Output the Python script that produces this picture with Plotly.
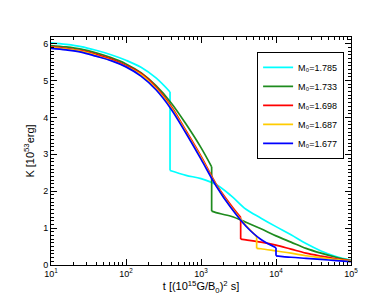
import plotly.graph_objects as go

# ---- data ----
series_names = ["M₀=1.785", "M₀=1.733", "M₀=1.698", "M₀=1.687", "M₀=1.677"]
series_colors = ["#00FFFF", "#1E8B1E", "#FF0000", "#FFCC00", "#0000FF"]

# log10(t) and K values; each curve drops vertically at one time
logt_1785 = [1.0, 1.2, 1.4, 1.6, 1.8, 2.0, 2.2, 2.4, 2.587, 2.587, 2.8, 3.0, 3.2, 3.4, 3.6, 3.8, 4.0, 4.2, 4.4, 4.6, 4.8, 5.0]
k_1785    = [6.02, 5.98, 5.92, 5.82, 5.70, 5.55, 5.36, 5.07, 4.69, 2.56, 2.43, 2.34, 2.18, 1.88, 1.51, 1.27, 1.04, 0.82, 0.58, 0.38, 0.23, 0.13]

logt_1733 = [1.0, 1.2, 1.4, 1.6, 1.8, 2.0, 2.2, 2.4, 2.6, 2.8, 3.0, 3.142, 3.142, 3.2, 3.4, 3.6, 3.8, 4.0, 4.2, 4.4, 4.6, 4.8, 5.0]
k_1733    = [5.95, 5.91, 5.85, 5.75, 5.62, 5.45, 5.21, 4.86, 4.40, 3.82, 3.18, 2.66, 1.46, 1.42, 1.32, 1.16, 0.98, 0.79, 0.62, 0.45, 0.32, 0.21, 0.12]

logt_1698 = [1.0, 1.2, 1.4, 1.6, 1.8, 2.0, 2.2, 2.4, 2.6, 2.8, 3.0, 3.2, 3.4, 3.529, 3.529, 3.6, 3.8, 4.0, 4.2, 4.4, 4.6, 4.8, 5.0]
k_1698    = [5.91, 5.87, 5.81, 5.71, 5.58, 5.41, 5.19, 4.82, 4.31, 3.64, 2.95, 2.20, 1.62, 1.29, 0.70, 0.68, 0.62, 0.54, 0.43, 0.32, 0.24, 0.17, 0.12]

logt_1687 = [1.0, 1.2, 1.4, 1.6, 1.8, 2.0, 2.2, 2.4, 2.6, 2.8, 3.0, 3.2, 3.4, 3.6, 3.742, 3.742, 3.8, 4.0, 4.2, 4.4, 4.6, 4.8, 5.0]
k_1687    = [5.89, 5.85, 5.79, 5.68, 5.55, 5.38, 5.16, 4.78, 4.27, 3.60, 2.91, 2.17, 1.57, 1.07, 0.77, 0.45, 0.44, 0.38, 0.32, 0.25, 0.20, 0.15, 0.11]

logt_1677 = [1.0, 1.2, 1.4, 1.6, 1.8, 2.0, 2.2, 2.4, 2.6, 2.8, 3.0, 3.2, 3.4, 3.6, 3.8, 4.0, 4.0, 4.2, 4.4, 4.6, 4.8, 5.0]
k_1677    = [5.87, 5.83, 5.77, 5.66, 5.54, 5.37, 5.12, 4.75, 4.23, 3.57, 2.87, 2.15, 1.55, 1.05, 0.69, 0.47, 0.25, 0.21, 0.18, 0.15, 0.12, 0.09]

x_tick_vals = [10, 100, 1000, 10000, 100000]
x_tick_text = ["10<sup>1</sup>", "10<sup>2</sup>", "10<sup>3</sup>", "10<sup>4</sup>", "10<sup>5</sup>"]
y_tick_vals = [0, 1, 2, 3, 4, 5, 6]

all_logt = [logt_1785, logt_1733, logt_1698, logt_1687, logt_1677]
all_k = [k_1785, k_1733, k_1698, k_1687, k_1677]

fig = go.Figure()
for i, (name, color, lt, kv) in enumerate(zip(series_names, series_colors, all_logt, all_k)):
    t = [10 ** v for v in lt]
    d = next(j for j in range(len(lt) - 1) if lt[j] == lt[j + 1])
    grp = f"g{i}"
    line = dict(color=color, width=1.7)
    fig.add_trace(go.Scatter(x=t[:d + 1], y=kv[:d + 1], mode="lines", name=name,
                             legendgroup=grp, showlegend=True,
                             line=dict(line, shape="spline", smoothing=1.0)))
    fig.add_trace(go.Scatter(x=t[d:d + 2], y=kv[d:d + 2], mode="lines", name=name,
                             legendgroup=grp, showlegend=False, line=line))
    fig.add_trace(go.Scatter(x=t[d + 1:], y=kv[d + 1:], mode="lines", name=name,
                             legendgroup=grp, showlegend=False,
                             line=dict(line, shape="spline", smoothing=1.0)))

font = dict(family="Liberation Sans, Arial, sans-serif", size=9, color="black")

fig.update_layout(
    width=382, height=306,
    margin=dict(l=43, r=39, t=29, b=49, autoexpand=False),
    paper_bgcolor="white", plot_bgcolor="white",
    font=font,
    showlegend=True,
    legend=dict(
        x=0.687, y=0.935, xanchor="left", yanchor="top",
        bordercolor="black", borderwidth=1, bgcolor="white",
        font=dict(family="Liberation Sans, Arial, sans-serif", size=9),
        itemwidth=30, tracegroupgap=0,
    ),
    xaxis=dict(
        type="log", range=[1, 5], automargin=False,
        tickvals=x_tick_vals, ticktext=x_tick_text,
        ticks="inside", ticklen=6, tickcolor="black",
        minor=dict(ticks="inside", ticklen=3, dtick="D1", tickcolor="black", showgrid=False),
        showline=True, linecolor="black", linewidth=1, mirror="allticks",
        showgrid=False, zeroline=False,
        title=dict(text="t [(10<sup>15</sup>G/B<sub>0</sub>)<sup>2</sup> s]", standoff=2),
        tickfont=dict(size=9),
    ),
    yaxis=dict(
        range=[0, 6.18], automargin=False,
        tickvals=y_tick_vals,
        ticks="inside", ticklen=6, tickcolor="black",
        minor=dict(ticks="inside", ticklen=3, dtick=0.1, tickcolor="black", showgrid=False),
        showline=True, linecolor="black", linewidth=1, mirror="allticks",
        showgrid=False, zeroline=False,
        title=dict(text="K [10<sup>53</sup>erg]", standoff=6),
        tickfont=dict(size=9),
    ),
)

fig.write_html("out.html")
